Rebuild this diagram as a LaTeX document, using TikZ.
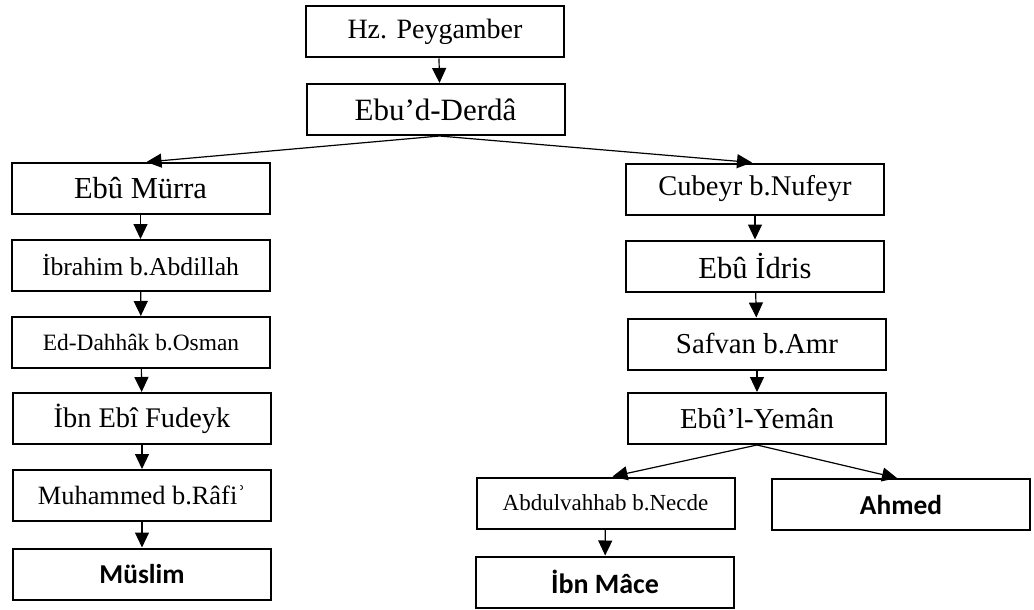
\documentclass[tikz,border=0pt]{standalone}
\usepackage{fontspec}
\setmainfont{Liberation Serif}
\newfontfamily\calibrifont{Carlito}
\usepackage{xcolor}
\usetikzlibrary{arrows.meta,positioning}

\newcommand{\setfs}[1]{\fontsize{#1}{#1}\selectfont}

\tikzset{
  box/.style={draw, line width=2pt, minimum width=258pt, minimum height=51pt, inner sep=0pt},
  final/.style={box, font=\calibrifont\bfseries},
  arr/.style={-{Triangle[length=15pt,width=14pt]}, line width=1.2pt}
}

\begin{document}
\begin{tikzpicture}[x=1pt,y=-1pt]
    \useasboundingbox (0,0) rectangle (1034,610);
    % top of the chain
    \node[box, font=\setfs{28}] (peyg) at (435,32) {Hz. Peygamber};
    \node[box, font=\setfs{31}] (derda) at (435.5,109.5) {Ebu’d-Derdâ};
    % left branch
    \node[box, font=\setfs{30.5}] (murra) at (140.5,188.5) {Ebû Mürra};
    \node[box, font=\setfs{25.7}] (ibrahim) at (140.5,265.5) {İbrahim b.Abdillah};
    \node[box, font=\setfs{23.4}] (dahhak) at (141,342.5) {Ed-Dahhâk b.Osman};
    \node[box, font=\setfs{28.4}] (fudeyk) at (142,418.5) {İbn Ebî Fudeyk};
    \node[box, font=\setfs{26.4}] (rafi) at (142,495.5) {Muhammed b.Râfiʾ};
    \node[final, font=\calibrifont\bfseries\setfs{27.3}] (muslim) at (142,574) {Müslim};
    % right branch
    \node[box, font=\setfs{28.5}] (cubeyr) at (755,189) {Cubeyr b.Nufeyr};
    \node[box, font=\setfs{30.6}] (idris) at (755,266) {Ebû İdris};
    \node[box, font=\setfs{28.9}] (safvan) at (757,344) {Safvan b.Amr};
    \node[box, font=\setfs{28.8}] (yeman) at (757,418.5) {Ebû’l-Yemân};
    \node[box, font=\setfs{23}] (necde) at (605.5,503) {Abdulvahhab b.Necde};
    \node[final, font=\calibrifont\bfseries\setfs{27.4}] (ahmed) at (901,504.5) {Ahmed};
    \node[final, font=\calibrifont\bfseries\setfs{28}] (mace) at (605,582) {İbn Mâce};

    \draw[arr] ([xshift=4pt]peyg.south) -- ([xshift=4pt]derda.north);
    \draw[arr] ([xshift=4pt]derda.south) -- ([xshift=6pt]murra.north);
    \draw[arr] ([xshift=4pt]derda.south) -- ([xshift=-3pt]cubeyr.north);
    \draw[arr] (murra) -- (ibrahim);
    \draw[arr] (ibrahim) -- (dahhak);
    \draw[arr] (dahhak) -- (fudeyk);
    \draw[arr] (fudeyk) -- (rafi);
    \draw[arr] (rafi) -- (muslim);
    \draw[arr] (cubeyr) -- (idris);
    \draw[arr] (idris) -- (safvan);
    \draw[arr] (safvan) -- (yeman);
    \draw[arr] (yeman.south) -- ([xshift=7pt]necde.north);
    \draw[arr] (yeman.south) -- ([xshift=-4pt]ahmed.north);
    \draw[arr] (necde) -- (mace);
\end{tikzpicture}
\end{document}
